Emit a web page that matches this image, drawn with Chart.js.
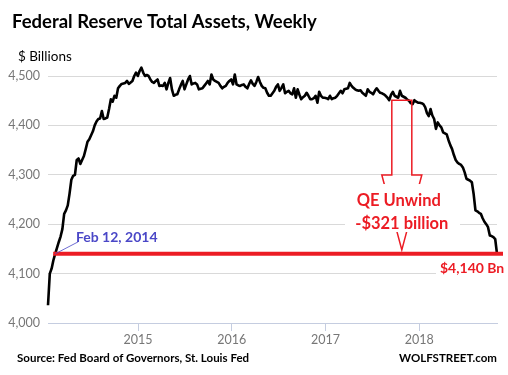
<!DOCTYPE html>
<html>
<head>
<meta charset="utf-8">
<title>Federal Reserve Total Assets, Weekly</title>
<script src="https://cdn.jsdelivr.net/npm/chart.js@4.4.1/dist/chart.umd.min.js"></script>
<style>
  body { margin: 0; background: #fff; }
  #wrap { width: 508px; height: 375px; }
</style>
</head>
<body>
<div id="wrap"><canvas id="fedChart"></canvas></div>
<script>
// weekly total assets, $ billions, first Wednesday in the series is Jan 15, 2014
const startDate = Date.UTC(2014, 0, 15);
const totalAssets = [
  // 2014
  4036, 4100, 4110, 4127, 4140, 4152, 4164, 4175, 4190, 4221, 4228, 4238, 4262,
  4290, 4298, 4300, 4330, 4333, 4322, 4330, 4338, 4352, 4367, 4372, 4380, 4388,
  4400, 4408, 4413, 4414, 4429, 4413, 4414, 4416, 4433, 4453, 4448, 4460, 4456,
  4475, 4480, 4484, 4485, 4486, 4490, 4484, 4487, 4490, 4500, 4507, 4500,
  // 2015
  4510, 4517, 4507, 4500, 4502, 4500, 4493, 4488, 4486, 4490, 4493, 4480, 4481,
  4480, 4486, 4473, 4486, 4496, 4473, 4460, 4462, 4463, 4473, 4482, 4490, 4473,
  4483, 4493, 4500, 4483, 4485, 4486, 4483, 4473, 4474, 4475, 4480, 4485, 4490,
  4483, 4503, 4493, 4490, 4488, 4486, 4480, 4475, 4478, 4480, 4486, 4490, 4493,
  // 2016
  4483, 4503, 4483, 4481, 4480, 4482, 4483, 4478, 4475, 4484, 4491, 4484, 4480,
  4488, 4498, 4488, 4480, 4476, 4475, 4466, 4460, 4460, 4465, 4470, 4478, 4483,
  4470, 4476, 4483, 4465, 4468, 4470, 4465, 4463, 4475, 4456, 4473, 4462, 4453,
  4457, 4460, 4466, 4460, 4453, 4453, 4455, 4460, 4446, 4468, 4460, 4456, 4456,
  // 2017
  4455, 4453, 4460, 4453, 4455, 4456, 4460, 4465, 4470, 4465, 4473, 4474, 4475,
  4486, 4480, 4476, 4473, 4471, 4470, 4471, 4466, 4463, 4460, 4473, 4468, 4466,
  4463, 4470, 4475, 4470, 4466, 4465, 4463, 4460, 4456, 4451, 4462, 4468, 4460,
  4458, 4456, 4470, 4460, 4458, 4456, 4452, 4450, 4445, 4443, 4451, 4448, 4446,
  // 2018
  4446, 4445, 4443, 4437, 4425, 4419, 4433, 4420, 4413, 4393, 4406, 4400, 4396,
  4386, 4384, 4382, 4370, 4360, 4352, 4340, 4330, 4325, 4322, 4320, 4315, 4305,
  4292, 4290, 4288, 4285, 4261, 4228, 4226, 4223, 4221, 4212, 4205, 4200, 4194,
  4177, 4176, 4174, 4170, 4140
];
const yearTicks = [2015, 2016, 2017, 2018];
const valueTicks = [4000, 4100, 4200, 4300, 4400, 4500];

// annotation values
const markDate = Date.UTC(2014, 1, 12);
const markValue = 4140;
const unwindDate = Date.UTC(2017, 9, 25);
const unwindTop = 4451;
const unwindAmount = 321;

const DAY = 86400000;
const points = totalAssets.map((v, i) => ({ x: startDate + i * 7 * DAY, y: v }));

const RED = '#ec1c24';
const BLUE = '#4a47c7';
const GREY = '#777';

Chart.defaults.font.family = 'Lato, sans-serif';

const annotations = {
  id: 'annotations',
  afterDraw(chart) {
    const { ctx } = chart;
    const xs = chart.scales.x, ys = chart.scales.y;
    ctx.save();

    // header / footer
    ctx.fillStyle = '#000';
    ctx.textBaseline = 'alphabetic';
    ctx.textAlign = 'left';
    ctx.font = 'bold 18.5px Lato';
    ctx.fillText('Federal Reserve Total Assets, Weekly', 12, 28);
    ctx.font = '13.5px Lato';
    ctx.fillText('$ Billions', 18, 61);
    ctx.textBaseline = 'middle';
    ctx.font = 'bold 11.5px Lato';
    ctx.fillText('Source: Fed Board of Governors, St. Louis Fed', 17, 358);
    ctx.textAlign = 'right';
    ctx.fillText('WOLFSTREET.com', 497, 358);

    // level line from Feb 12, 2014
    const mx = xs.getPixelForValue(markDate);
    const my = ys.getPixelForValue(markValue);
    ctx.strokeStyle = RED;
    ctx.lineWidth = 4;
    ctx.beginPath();
    ctx.moveTo(mx - 2, my);
    ctx.lineTo(chart.width - 5, my);
    ctx.stroke();

    ctx.strokeStyle = BLUE;
    ctx.lineWidth = 0.8;
    ctx.beginPath();
    ctx.moveTo(mx, my);
    ctx.lineTo(mx + 23, my - 12);
    ctx.stroke();
    ctx.fillStyle = BLUE;
    ctx.textAlign = 'left';
    ctx.font = 'bold 14px Lato';
    ctx.fillText('Feb 12, 2014', 76, 237);

    // unwind arrow
    const ax = xs.getPixelForValue(unwindDate);
    const top = ys.getPixelForValue(unwindTop);
    const tip = my - 4;
    const mid = (top + tip) / 2;
    ctx.strokeStyle = RED;
    ctx.lineWidth = 1.5;
    ctx.beginPath();
    ctx.moveTo(ax - 10, top);
    ctx.lineTo(ax + 10, top);
    ctx.lineTo(ax + 10, mid);
    ctx.lineTo(ax + 20, mid);
    ctx.lineTo(ax, tip);
    ctx.lineTo(ax - 20, mid);
    ctx.lineTo(ax - 10, mid);
    ctx.closePath();
    ctx.stroke();

    ctx.fillStyle = '#fff';
    ctx.fillRect(345, mid + 9, 115, 48);
    ctx.fillRect(436, my + 6, 72, 18);

    ctx.fillStyle = RED;
    ctx.textAlign = 'center';
    ctx.font = 'bold 16.5px Lato';
    ctx.fillText('QE Unwind', ax - 3, 201);
    ctx.fillText('-$' + unwindAmount + ' billion', ax, 224);
    ctx.textAlign = 'left';
    ctx.font = 'bold 14px Lato';
    ctx.fillText('$' + markValue.toLocaleString('en-US') + ' Bn', 440, 268);

    ctx.restore();
  }
};

new Chart(document.getElementById('fedChart'), {
  type: 'line',
  data: {
    datasets: [{
      data: points,
      borderColor: '#000',
      borderWidth: 2.6,
      pointRadius: 0,
      tension: 0,
      borderJoinStyle: 'round',
      clip: false
    }]
  },
  options: {
    responsive: true,
    maintainAspectRatio: false,
    animation: false,
    layout: { padding: { top: 76, right: 11, bottom: 30, left: 0 } },
    plugins: { legend: { display: false }, tooltip: { enabled: false } },
    scales: {
      x: {
        type: 'linear',
        min: startDate,
        max: startDate + (totalAssets.length - 1) * 7 * DAY,
        afterBuildTicks: s => { s.ticks = yearTicks.map(yr => ({ value: Date.UTC(yr, 0, 1) })); },
        afterFit: s => { s.height = 22; },
        ticks: {
          callback: v => new Date(v).getUTCFullYear(),
          color: GREY, font: { size: 12.5 }, padding: 1, maxRotation: 0, autoSkip: false
        },
        grid: { drawOnChartArea: false, color: '#c5cde0', tickLength: 8 },
        border: { color: '#c5cde0' }
      },
      y: {
        min: 4000,
        max: 4500,
        afterBuildTicks: s => { s.ticks = valueTicks.map(v => ({ value: v })); },
        afterFit: s => { s.width = 48; },
        ticks: { callback: v => v.toLocaleString('en-US'), color: GREY, font: { size: 12.5 }, padding: 8 },
        grid: { drawTicks: false, color: '#d9d9d9' },
        border: { display: false }
      }
    }
  },
  plugins: [annotations]
});
</script>
</body>
</html>
